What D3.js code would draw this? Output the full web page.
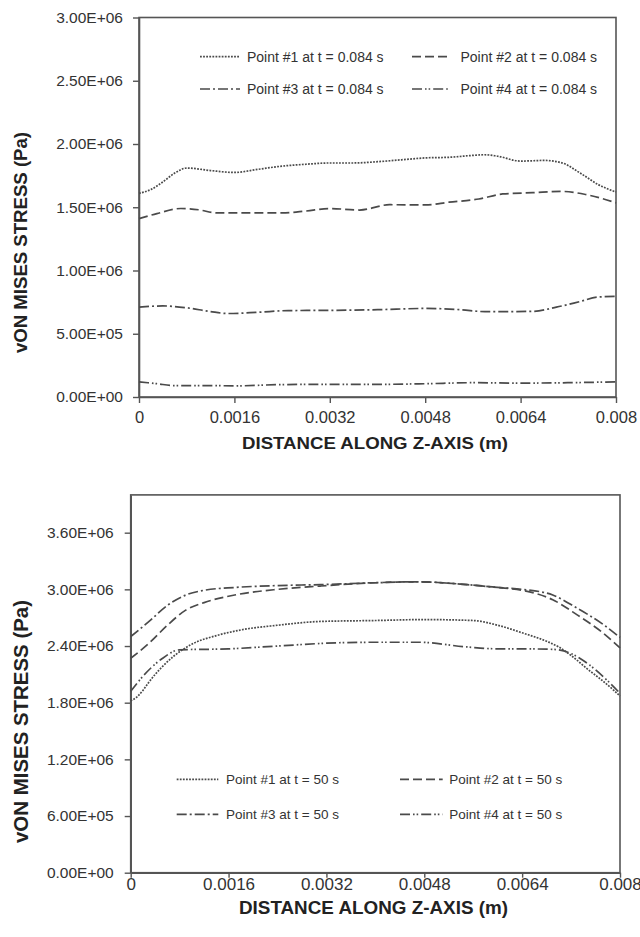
<!DOCTYPE html>
<html>
<head>
<meta charset="utf-8">
<script src="https://cdn.jsdelivr.net/npm/d3@7"></script>
<style>
  html, body { margin: 0; padding: 0; background: #fff; }
  svg { display: block; font-family: "Liberation Sans", Arial, sans-serif; }
</style>
</head>
<body>
<svg id="chart" width="640" height="937"></svg>
<script>
// ---- shared axis definitions ----
const xTicks = [0, 0.0016, 0.0032, 0.0048, 0.0064, 0.008];
const xTickLabels = ["0", "0.0016", "0.0032", "0.0048", "0.0064", "0.008"];

// ---- upper panel: t = 0.084 s ----
const topYTicks = [0, 5e5, 1e6, 1.5e6, 2e6, 2.5e6, 3e6];
const topLegend = ["Point #1 at t = 0.084 s", "Point #2 at t = 0.084 s",
                   "Point #3 at t = 0.084 s", "Point #4 at t = 0.084 s"];

const topP1 = [[0,1.61e6],[0.0002,1.64e6],[0.0004,1.70e6],[0.0006,1.77e6],[0.0008,1.81e6],
  [0.0012,1.79e6],[0.0016,1.775e6],[0.002,1.80e6],[0.0024,1.825e6],[0.0028,1.84e6],
  [0.0032,1.85e6],[0.0036,1.85e6],[0.004,1.86e6],[0.0044,1.875e6],[0.0048,1.89e6],
  [0.0052,1.895e6],[0.0056,1.91e6],[0.0058,1.915e6],[0.006,1.905e6],[0.0064,1.865e6],
  [0.0068,1.87e6],[0.0071,1.85e6],[0.0074,1.77e6],[0.0077,1.68e6],[0.008,1.62e6]];
const topP2 = [[0,1.41e6],[0.0003,1.45e6],[0.0007,1.49e6],[0.001,1.48e6],[0.0013,1.455e6],
  [0.0018,1.455e6],[0.0024,1.455e6],[0.0028,1.47e6],[0.0032,1.49e6],[0.0037,1.478e6],
  [0.0042,1.52e6],[0.0048,1.518e6],[0.0052,1.54e6],[0.0057,1.565e6],[0.0061,1.605e6],
  [0.0066,1.615e6],[0.0071,1.625e6],[0.0075,1.60e6],[0.008,1.535e6]];
const topP3 = [[0,0.71e6],[0.0004,0.72e6],[0.0008,0.705e6],[0.0012,0.675e6],[0.0015,0.66e6],
  [0.002,0.67e6],[0.0025,0.683e6],[0.0032,0.685e6],[0.004,0.69e6],[0.0048,0.70e6],
  [0.0054,0.69e6],[0.0058,0.675e6],[0.0062,0.675e6],[0.0066,0.677e6],[0.007,0.71e6],
  [0.0074,0.755e6],[0.0077,0.79e6],[0.008,0.795e6]];
const topP4 = [[0,0.12e6],[0.0003,0.105e6],[0.0006,0.09e6],[0.0012,0.09e6],[0.0016,0.088e6],
  [0.0024,0.098e6],[0.0032,0.10e6],[0.004,0.10e6],[0.0048,0.105e6],[0.0056,0.113e6],
  [0.0064,0.11e6],[0.0072,0.113e6],[0.008,0.12e6]];

// ---- lower panel: t = 50 s ----
const botYTicks = [0, 6e5, 1.2e6, 1.8e6, 2.4e6, 3.0e6, 3.6e6];
const botLegend = ["Point #1 at t = 50 s", "Point #2 at t = 50 s",
                   "Point #3 at t = 50 s", "Point #4 at t = 50 s"];

const botP1 = [[0,1.82e6],[0.0001,1.86e6],[0.0002,1.93e6],[0.0003,2.02e6],[0.0005,2.17e6],
  [0.0007,2.29e6],[0.001,2.42e6],[0.0014,2.51e6],[0.0018,2.57e6],[0.0024,2.62e6],
  [0.0031,2.66e6],[0.004,2.67e6],[0.0048,2.68e6],[0.0056,2.67e6],[0.006,2.62e6],
  [0.0064,2.54e6],[0.0068,2.45e6],[0.007,2.39e6],[0.0072,2.30e6],[0.0075,2.14e6],
  [0.0077,2.04e6],[0.0079,1.93e6],[0.008,1.87e6]];
const botP2 = [[0,2.27e6],[0.0003,2.43e6],[0.0006,2.62e6],[0.0009,2.78e6],[0.0012,2.86e6],
  [0.0017,2.94e6],[0.0024,3.0e6],[0.0031,3.035e6],[0.004,3.07e6],[0.0047,3.08e6],
  [0.0055,3.05e6],[0.006,3.02e6],[0.0064,2.99e6],[0.0069,2.89e6],[0.0073,2.73e6],
  [0.0077,2.55e6],[0.008,2.38e6]];
const botP3 = [[0,2.50e6],[0.0003,2.66e6],[0.0006,2.83e6],[0.0009,2.94e6],[0.0012,2.99e6],
  [0.0017,3.02e6],[0.0024,3.04e6],[0.0031,3.05e6],[0.004,3.07e6],[0.0047,3.08e6],
  [0.0055,3.05e6],[0.006,3.02e6],[0.0064,3.0e6],[0.0069,2.94e6],[0.0073,2.80e6],
  [0.0077,2.64e6],[0.008,2.49e6]];
const botP4 = [[0,1.92e6],[0.0002,2.08e6],[0.0005,2.26e6],[0.0008,2.36e6],[0.0016,2.37e6],
  [0.0024,2.40e6],[0.0032,2.43e6],[0.004,2.44e6],[0.0047,2.44e6],[0.0055,2.39e6],
  [0.006,2.37e6],[0.0064,2.37e6],[0.0069,2.365e6],[0.0072,2.32e6],[0.0075,2.20e6],
  [0.0078,2.03e6],[0.008,1.90e6]];

// line dash patterns: dotted, dashed, dash-dot, dash-dot-dot
const dashes = ["1.8,1.3", "9,4", "10,3,2,3", "10,3,1.6,2,1.6,3"];
const ink = "#4a4a4a";

// scientific label like 1.50E+06
function sci(v) {
  if (v === 0) return "0.00E+00";
  const e = Math.floor(Math.log10(Math.abs(v)) + 1e-9);
  const m = v / Math.pow(10, e);
  return m.toFixed(2) + "E" + (e >= 0 ? "+" : "-") + String(Math.abs(e)).padStart(2, "0");
}

const svg = d3.select("#chart");

function panel(cfg) {
  const x = d3.scaleLinear().domain([0, 0.008]).range([cfg.left, cfg.right]);
  const y = d3.scaleLinear().domain([0, cfg.yMax]).range([cfg.bottom, cfg.top]);
  const g = svg.append("g");

  // frame
  g.append("rect")
    .attr("x", cfg.left).attr("y", cfg.top)
    .attr("width", cfg.right - cfg.left).attr("height", cfg.bottom - cfg.top)
    .attr("fill", "none").attr("stroke", "#555").attr("stroke-width", 1.6);

  // y axis
  const ya = g.append("g").attr("transform", `translate(${cfg.left},0)`)
    .call(d3.axisLeft(y).tickValues(cfg.yTicks).tickFormat(sci)
      .tickSize(6).tickPadding(cfg.yPad).tickSizeOuter(0));
  ya.select(".domain").attr("stroke", "#555").attr("stroke-width", 1.6);
  ya.selectAll(".tick line").attr("stroke", "#555").attr("stroke-width", 1.4);
  ya.selectAll(".tick text").attr("font-size", cfg.yFont).attr("fill", "#333");

  // x axis
  const xa = g.append("g").attr("transform", `translate(0,${cfg.bottom})`)
    .call(d3.axisBottom(x).tickValues(xTicks).tickFormat((d, i) => xTickLabels[i])
      .tickSize(cfg.xTickLen).tickPadding(cfg.xPad).tickSizeOuter(0));
  xa.select(".domain").attr("stroke", "#555").attr("stroke-width", 1.6);
  xa.selectAll(".tick line").attr("stroke", "#555").attr("stroke-width", 1.4);
  xa.selectAll(".tick text").attr("font-size", cfg.xFont).attr("fill", "#333");

  // data lines
  const line = d3.line().x(d => x(d[0])).y(d => y(d[1])).curve(d3.curveMonotoneX);
  cfg.series.forEach((s, i) => {
    g.append("path").datum(s).attr("d", line)
      .attr("fill", "none").attr("stroke", ink).attr("stroke-width", 1.7)
      .attr("stroke-dasharray", dashes[i]);
  });

  // legend (2 x 2)
  cfg.legend.forEach((label, i) => {
    const col = i % 2, row = Math.floor(i / 2);
    const ly = cfg.legRows[row];
    const [x0, x1, tx] = cfg.legCols[col];
    g.append("line").attr("x1", x0).attr("x2", x1).attr("y1", ly).attr("y2", ly)
      .attr("stroke", ink).attr("stroke-width", 1.7).attr("stroke-dasharray", dashes[i]);
    g.append("text").attr("x", tx).attr("y", ly + 5)
      .attr("font-size", cfg.legFont).attr("fill", "#333").text(label);
  });

  // axis titles
  g.append("text")
    .attr("transform", `translate(${cfg.yTitle[0]},${cfg.yTitle[1]}) rotate(-90)`)
    .attr("text-anchor", "middle").attr("dy", "0.36em")
    .attr("font-size", cfg.yTitleFont).attr("font-weight", "bold").attr("fill", "#222")
    .attr("textLength", cfg.yTitle[2]).attr("lengthAdjust", "spacingAndGlyphs")
    .text("vON MISES STRESS (Pa)");
  g.append("text")
    .attr("x", cfg.xTitle[0]).attr("y", cfg.xTitle[1])
    .attr("text-anchor", "middle")
    .attr("font-size", cfg.xTitleFont).attr("font-weight", "bold").attr("fill", "#222")
    .attr("textLength", cfg.xTitle[2]).attr("lengthAdjust", "spacingAndGlyphs")
    .text("DISTANCE ALONG Z-AXIS (m)");
}

panel({
  left: 139, right: 616, top: 17.5, bottom: 397, yMax: 3e6,
  yTicks: topYTicks, yPad: 10, yFont: 15.5,
  xTickLen: 6, xPad: 8, xFont: 16.5,
  series: [topP1, topP2, topP3, topP4],
  legend: topLegend, legFont: 14,
  legRows: [56.7, 89], legCols: [[200, 240, 247], [412, 448, 460.5]],
  yTitle: [20, 242.5, 221], yTitleFont: 18.5,
  xTitle: [375, 449, 266], xTitleFont: 17
});

panel({
  left: 130.7, right: 620, top: 494.9, bottom: 872.7, yMax: 4e6,
  yTicks: botYTicks, yPad: 11, yFont: 15.5,
  xTickLen: 5, xPad: 0.5, xFont: 17,
  series: [botP1, botP2, botP3, botP4],
  legend: botLegend, legFont: 13.5,
  legRows: [779.3, 814.3], legCols: [[176.7, 218.3, 226], [400, 442.7, 449.3]],
  yTitle: [21, 721.5, 243], yTitleFont: 20,
  xTitle: [373.5, 914.3, 269], xTitleFont: 17.5
});
</script>
</body>
</html>
